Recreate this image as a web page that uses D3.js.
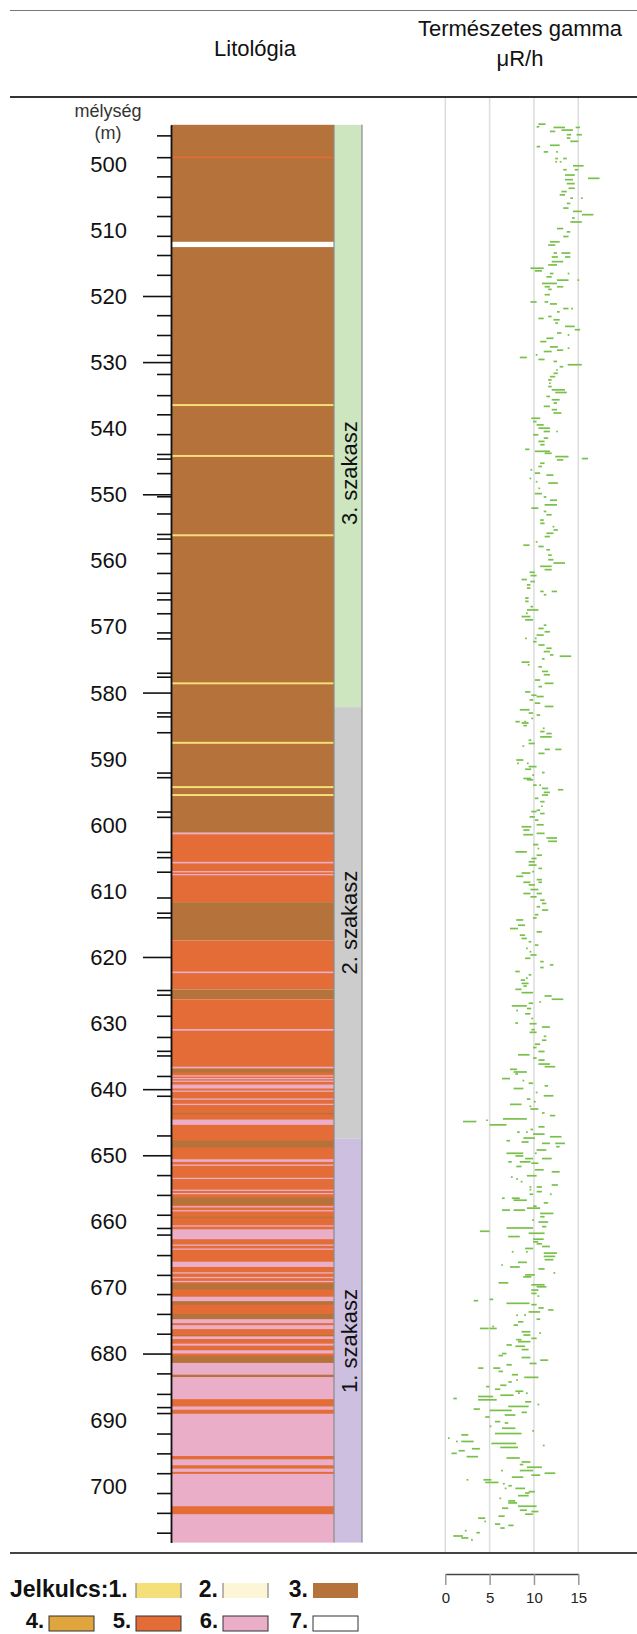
<!DOCTYPE html>
<html>
<head>
<meta charset="utf-8">
<script src="https://cdn.jsdelivr.net/npm/d3@7"></script>
<style>
body { margin: 0; background: #fff; }
text { font-family: "Liberation Sans", Arial, sans-serif; fill: #111; }
</style>
</head>
<body>
<script>
(function(){

//depth labels and irregular depth ticks (m)
var depthLabels = [500, 510, 520, 530, 540, 550, 560, 570, 580, 590, 600, 610, 620, 630, 640, 650, 660, 670, 680, 690, 700];
var majorTicks = [520, 530, 550, 580, 620, 640, 650, 680];
var minorTicks = [495.7, 499.0, 501.9, 505.0, 507.9, 510.9, 513.8, 516.8, 522.9, 525.9, 528.9, 531.8, 535.0,
    537.9, 540.9, 543.9, 544.6, 546.8, 550.3, 552.9, 556.0, 556.7, 558.9, 561.9, 564.9, 565.9, 568.0,
    570.9, 571.8, 577.0, 577.6, 583.0, 583.6, 586.0, 592.1, 592.8, 598.0, 598.8, 604.1, 604.9, 607.1,
    611.0, 613.3, 614.0, 625.0, 625.7, 628.9, 632.1, 634.2, 634.9, 638.0, 641.0, 647.0, 653.0, 656.0,
    659.0, 661.0, 662.0, 665.1, 668.1, 671.0, 674.0, 677.0, 683.0, 686.1, 688.1, 689.0, 692.1, 695.1,
    698.1, 701.1, 704.1, 707.1];

//lithology layers: [top, bottom, key] drawn in order (thin beds on top of thick ones)
var lithoLayers = [
    [494.1, 601.2, 3], [601.2, 611.7, 5], [611.7, 617.5, 3], [617.5, 624.9, 5], [624.9, 626.4, 3],
    [626.4, 681.4, 5], [681.4, 708.6, 6],
    [498.9, 499.15, 5], [511.8, 512.6, 7],
    [536.35, 536.65, 1], [544.05, 544.35, 1], [556.05, 556.35, 1], [578.45, 578.75, 1],
    [587.45, 587.75, 1], [594.15, 594.45, 1], [595.35, 595.65, 1],
    [601.2, 601.45, 6], [605.6, 605.85, 6], [607.0, 607.2, 6], [607.45, 607.65, 6],
    [622.2, 622.45, 6], [630.9, 631.15, 6], [636.6, 636.85, 6], [636.95, 637.5, 3],
    [637.9, 638.1, 6], [638.3, 638.5, 6], [638.7, 638.9, 6], [639.3, 639.9, 6], [640.2, 640.4, 6],
    [641.4, 641.6, 6], [642.2, 642.4, 6], [643.6, 643.8, 3], [644.6, 645.4, 6], [647.8, 648.8, 3],
    [650.6, 651.0, 6], [651.4, 651.6, 6], [653.4, 653.6, 6], [655.2, 655.4, 6], [655.7, 655.9, 6],
    [656.4, 657.5, 3], [657.7, 657.9, 6], [658.3, 658.5, 6], [659.3, 659.5, 3], [660.6, 660.8, 6],
    [661.2, 662.7, 6], [663.5, 663.7, 6], [664.1, 664.3, 6], [666.1, 666.9, 6], [667.7, 667.9, 6],
    [668.4, 668.6, 6], [669.0, 669.2, 6], [669.4, 670.3, 3], [671.4, 672.1, 6], [672.1, 672.6, 3],
    [674.0, 674.8, 3], [674.8, 675.4, 6], [675.7, 676.3, 6], [677.2, 677.4, 3], [677.4, 677.8, 6],
    [678.5, 678.8, 6], [679.5, 680.0, 6], [680.4, 681.4, 3],
    [683.2, 683.55, 3], [686.9, 688.0, 5], [688.5, 689.1, 5], [695.5, 696.0, 5], [696.9, 697.4, 5],
    [697.9, 698.2, 5], [703.1, 704.3, 5]
];
var lithoColor = {1: "#f4df78", 2: "#fcf5d6", 3: "#b5723b", 4: "#e0a53c", 5: "#e36c37", 6: "#ebaec8", 7: "#ffffff"};

//stratigraphic units: [top, bottom, label, label depth]
var stages = [
    [494.1, 582.2, "3. szakasz", 546.8],
    [582.2, 647.5, "2. szakasz", 614.8],
    [647.5, 708.6, "1. szakasz", 678.1]
];
var stageColor = ["#cde6c0", "#cccccc", "#cdbfe0"];

//natural gamma readings: [depth m, low, high] in uR/h
var gammaDashes = [
[494.0,10.5,11.3],[494.4,10.3,10.6],[494.5,12.2,13.5],[494.5,14.7,15.2],[494.9,13.1,14.4],[495.1,11.8,12.4],
[495.6,13.7,14.2],[495.6,14.8,15.4],[496.1,13.7,14.1],[496.6,14.1,15.0],[497.2,11.8,12.9],[497.4,10.3,10.7],
[498.2,11.1,11.6],[498.2,12.5,12.7],[499.2,12.4,12.7],[499.2,13.3,13.7],[499.7,12.4,12.6],[499.7,12.9,13.1],
[500.3,14.4,15.6],[500.9,13.3,13.7],[500.9,14.6,15.0],[501.7,13.5,14.6],[502.2,16.1,17.4],[502.4,13.5,14.4],
[503.0,13.7,14.6],[503.7,13.9,14.6],[504.2,13.1,13.7],[504.7,12.9,13.5],[505.2,14.1,14.4],[505.2,15.3,15.5],
[506.0,13.7,14.1],[506.7,13.3,13.9],[507.2,14.4,15.4],[507.7,15.4,16.7],[508.2,14.3,14.6],[508.8,14.1,15.4],
[509.8,12.6,13.3],[510.3,13.7,14.1],[511.0,13.3,13.9],[511.8,11.8,12.9],[512.3,11.6,12.4],[513.5,12.2,12.6],
[513.5,13.1,14.1],[514.1,12.0,12.7],[514.1,13.5,14.1],[514.8,12.0,13.3],[515.3,11.6,12.6],[515.8,9.6,11.1],
[516.2,10.1,10.9],[516.6,11.8,12.2],[516.6,13.8,14.0],[517.1,11.4,12.0],[517.6,12.6,13.9],[517.6,14.9,15.1],
[518.1,10.9,12.6],[518.6,11.2,11.8],[518.6,12.6,13.3],[519.0,11.6,12.0],[519.8,11.2,11.8],[520.9,9.6,10.3],
[520.9,11.2,11.6],[521.2,11.8,12.6],[521.9,13.3,13.9],[521.9,14.2,14.4],[522.4,12.6,12.9],[523.1,11.6,12.0],
[523.4,10.5,11.1],[523.6,12.2,12.9],[524.1,12.4,12.7],[524.6,13.5,14.6],[525.1,14.6,15.2],[525.6,12.6,13.1],
[525.9,13.8,14.0],[526.4,11.4,12.2],[526.9,10.7,11.4],[527.7,11.8,12.7],[527.9,13.8,14.0],[528.2,12.6,13.3],
[528.4,11.1,12.0],[528.9,10.2,10.4],[529.3,8.4,9.2],[529.6,10.5,11.2],[529.9,12.2,12.6],[530.4,13.8,15.4],
[530.7,12.9,13.3],[531.2,12.5,12.7],[531.7,12.2,12.7],[532.2,11.8,12.4],[532.7,11.6,12.0],[533.2,11.7,11.9],
[533.7,11.6,12.0],[534.2,12.0,13.5],[534.6,12.4,13.7],[535.2,11.4,11.8],[535.7,12.0,12.9],[536.2,12.2,12.6],
[536.7,11.1,11.8],[537.2,12.0,12.6],[537.7,12.2,13.1],[538.5,9.7,10.7],[539.0,9.9,10.3],[539.5,10.3,11.1],
[540.0,10.5,11.8],[540.5,11.1,11.8],[540.5,12.5,12.6],[541.0,9.9,10.5],[541.5,11.1,11.6],[542.0,10.5,11.2],
[542.5,10.7,11.2],[543.2,9.0,9.5],[543.5,10.1,11.8],[543.8,11.2,12.0],[544.3,12.4,13.9],[544.6,15.4,16.1],
[544.8,12.6,13.3],[545.3,10.7,11.2],[545.8,10.5,10.9],[546.3,9.6,9.8],[546.8,10.1,10.7],[547.1,11.4,12.2],
[547.6,9.5,9.7],[548.1,10.2,10.4],[548.3,11.6,12.7],[549.1,10.5,10.7],[549.9,10.1,10.9],[550.4,11.1,11.4],
[550.9,11.8,12.6],[551.6,11.2,12.6],[552.1,9.7,10.5],[552.6,11.1,11.4],[553.1,11.4,12.0],[553.9,10.7,11.1],
[554.4,10.7,11.2],[554.9,12.1,12.3],[555.4,12.2,12.7],[555.9,11.4,12.2],[556.4,11.2,11.8],[557.2,10.2,10.4],
[557.7,8.8,9.5],[557.9,10.5,11.1],[558.4,11.4,11.8],[559.2,11.6,12.0],[559.9,11.6,12.2],[560.4,12.2,13.5],
[560.9,10.7,12.0],[561.4,11.2,12.0],[561.8,9.5,10.1],[562.3,9.6,10.3],[562.9,8.6,9.2],[563.2,9.6,10.1],
[563.7,9.2,9.6],[564.2,9.2,9.6],[564.7,10.7,11.1],[564.7,12.0,12.6],[565.2,11.1,11.4],[565.7,9.0,9.4],
[566.2,9.0,9.4],[567.0,9.6,9.9],[567.5,9.2,10.5],[568.0,9.1,9.3],[568.5,8.6,9.6],[569.0,9.0,9.9],
[569.8,11.1,11.4],[570.3,10.5,11.1],[570.8,11.2,11.8],[571.3,10.3,11.1],[571.8,9.0,9.2],[571.8,10.1,10.3],
[572.3,9.9,10.3],[572.8,10.5,11.2],[573.3,11.4,12.0],[573.8,11.1,11.8],[574.3,11.8,12.2],[574.5,12.9,14.2],
[574.9,10.9,11.2],[575.4,8.6,9.5],[575.8,9.3,9.5],[576.1,10.5,10.9],[576.8,10.9,11.6],[577.3,11.1,11.8],
[578.1,10.1,10.7],[578.6,11.2,12.2],[579.1,10.5,10.9],[579.9,9.0,9.6],[580.4,9.7,10.3],[580.6,10.3,11.1],
[581.1,9.5,9.9],[581.6,10.1,10.7],[582.1,11.2,12.2],[582.6,8.4,9.5],[583.1,9.4,9.9],[583.4,10.3,10.7],
[583.9,9.7,9.9],[584.4,7.9,8.4],[584.4,8.9,9.1],[584.6,8.6,9.4],[585.0,8.8,9.2],[585.4,11.0,11.2],
[585.9,10.7,11.2],[586.2,11.4,12.0],[586.7,10.7,12.0],[587.2,9.4,9.7],[587.7,9.4,10.1],[588.1,8.7,8.9],
[588.6,11.2,11.8],[588.6,12.4,13.1],[589.2,10.5,11.2],[590.2,8.0,8.8],[590.7,9.2,9.4],[590.7,8.1,8.3],
[591.2,9.4,10.3],[591.6,9.0,9.7],[592.1,10.9,11.2],[592.5,9.8,10.0],[593.0,8.8,9.7],[593.2,9.2,9.9],
[594.0,9.9,10.3],[594.0,10.6,10.8],[594.5,10.9,11.6],[594.7,12.7,13.3],[595.1,11.1,11.8],[595.5,10.9,11.6],
[596.0,10.1,10.5],[596.5,10.7,11.2],[597.2,10.8,11.0],[597.8,10.3,10.7],[598.0,9.7,10.3],[598.3,10.7,11.2],
[598.8,9.5,10.1],[599.3,10.1,10.5],[600.0,10.3,11.1],[600.3,8.6,9.7],[600.8,8.8,9.5],[601.3,10.3,11.2],
[601.5,8.8,9.9],[602.0,11.4,12.6],[602.5,11.6,12.6],[603.0,9.9,10.5],[603.6,10.4,10.6],[604.1,7.9,9.2],
[604.6,10.3,10.9],[605.1,9.7,10.3],[605.6,9.4,10.1],[606.1,9.4,10.3],[606.6,10.5,10.9],[607.1,9.8,10.0],
[607.3,8.6,9.6],[607.8,8.0,8.8],[608.3,10.3,10.9],[608.7,8.8,9.6],[608.7,10.5,10.9],[609.1,9.4,10.1],
[609.8,9.6,10.5],[610.4,8.8,9.6],[610.4,10.3,10.9],[610.9,9.6,10.3],[611.4,10.7,11.2],[611.9,10.9,11.4],
[612.4,10.3,10.7],[612.9,10.9,11.6],[613.6,10.1,10.5],[614.1,9.9,10.3],[614.4,8.0,8.8],[615.2,8.2,9.0],
[615.7,7.3,8.2],[616.2,10.3,10.9],[616.7,8.4,9.0],[617.2,8.6,9.2],[617.7,9.4,9.7],[618.2,10.1,10.5],
[618.7,9.1,9.3],[619.2,9.5,9.7],[619.7,9.6,10.3],[620.2,9.0,9.6],[620.7,10.7,11.1],[621.2,11.8,12.2],
[621.6,10.7,11.1],[622.2,7.9,8.4],[622.7,9.4,9.7],[623.2,9.1,9.3],[623.5,8.5,9.0],[624.0,8.6,9.4],
[624.4,8.8,9.2],[624.9,7.9,8.6],[625.4,8.6,9.9],[625.9,11.2,12.0],[626.4,12.0,13.3],[626.8,10.6,10.8],
[627.0,9.4,9.9],[627.4,7.5,9.2],[627.8,9.2,9.7],[628.1,8.0,8.2],[628.6,9.0,9.6],[629.3,9.7,9.9],
[630.0,7.9,8.2],[630.1,9.5,10.3],[630.6,10.9,11.8],[631.0,9.7,10.1],[631.4,9.5,10.3],[632.0,11.1,11.4],
[632.6,10.9,11.4],[633.2,10.1,10.7],[633.7,9.9,10.3],[634.3,10.5,11.2],[634.8,8.2,9.5],[635.3,9.9,10.3],
[635.6,10.5,11.2],[636.2,10.5,11.8],[636.6,11.2,12.4],[637.0,7.3,8.1],[637.4,7.7,9.2],[637.7,7.9,8.2],
[638.4,6.4,7.3],[638.7,8.7,8.9],[639.1,9.4,9.9],[639.5,11.2,11.6],[639.9,7.7,8.8],[640.5,10.2,10.4],
[641.0,11.1,12.2],[641.5,9.2,9.6],[641.9,10.0,10.2],[642.3,7.3,8.6],[642.6,9.5,9.7],[643.0,9.6,10.5],
[643.6,10.9,11.2],[644.0,11.8,12.4],[644.5,6.5,9.2],[644.7,4.6,4.8],[644.9,2.0,3.5],[645.4,5.0,6.9],
[645.7,10.5,11.2],[646.1,9.6,9.9],[646.5,8.1,8.4],[646.5,9.1,9.3],[646.8,9.9,11.2],[647.2,11.8,13.1],
[647.4,8.8,10.1],[647.8,6.9,7.3],[648.0,8.6,9.4],[648.2,10.9,11.8],[648.2,12.4,13.5],[648.7,12.5,12.9],
[649.2,10.3,11.4],[649.7,6.9,8.8],[649.7,10.1,10.3],[650.1,7.9,8.8],[650.5,9.0,9.9],[650.5,10.9,12.0],
[651.0,7.1,7.5],[651.0,8.4,9.6],[651.2,9.7,10.5],[651.7,8.0,8.6],[652.2,10.1,11.1],[652.5,12.0,12.9],
[653.1,9.2,10.3],[653.3,7.4,7.6],[653.6,8.0,8.2],[654.0,8.5,8.7],[654.5,12.0,12.7],[654.8,9.5,9.7],
[654.8,10.3,10.9],[655.2,9.5,9.7],[655.5,10.3,10.9],[655.9,9.5,9.9],[655.9,11.8,12.0],[656.5,6.4,6.7],
[656.5,7.5,8.4],[656.8,7.7,9.2],[657.2,11.1,11.6],[657.7,9.9,10.3],[658.0,9.2,10.7],[658.3,6.4,7.3],
[658.3,7.7,9.0],[658.8,10.7,12.2],[659.3,10.7,11.2],[659.8,9.8,10.0],[660.1,10.5,11.6],[660.8,10.9,11.4],
[661.0,6.9,9.9],[661.5,3.9,5.0],[661.8,9.4,11.2],[662.3,7.1,8.4],[662.7,9.9,11.1],[663.1,9.9,10.5],
[663.4,10.3,10.9],[663.8,10.9,11.8],[664.1,9.0,9.9],[664.6,7.5,7.7],[664.6,9.1,9.3],[664.8,11.1,12.6],
[665.3,11.1,12.4],[665.8,11.2,12.2],[666.2,8.2,9.2],[666.6,6.3,6.5],[666.9,7.3,8.4],[667.2,10.5,11.2],
[667.8,12.2,12.4],[668.1,9.0,10.1],[668.4,8.8,9.7],[669.3,6.0,7.1],[669.6,9.7,11.2],[669.9,10.3,11.4],
[670.4,9.7,10.5],[670.9,9.7,10.3],[671.3,10.4,10.6],[671.8,5.0,5.4],[672.0,3.2,3.7],[672.4,6.9,9.5],
[672.6,9.7,10.3],[673.1,10.5,11.1],[673.4,11.6,12.2],[673.7,9.4,10.7],[674.2,8.0,8.2],[674.2,8.9,9.1],
[674.8,10.3,10.7],[675.2,8.2,8.8],[675.7,7.7,8.2],[675.9,5.3,5.5],[676.2,3.9,4.9],[676.2,5.0,5.8],
[676.7,8.6,9.6],[676.9,10.6,10.8],[677.2,8.8,9.6],[677.7,9.7,10.3],[677.9,8.0,8.6],[678.2,8.2,9.6],
[678.7,6.9,7.5],[678.9,7.9,9.0],[679.4,8.6,9.4],[680.0,6.4,6.9],[680.3,6.0,6.5],[680.6,8.6,9.6],
[681.0,10.7,11.6],[681.5,9.5,10.3],[681.7,6.9,7.5],[682.2,3.7,4.3],[682.2,5.4,6.2],[682.7,6.0,6.5],
[683.2,7.5,8.2],[683.6,8.9,10.5],[684.0,8.0,8.2],[684.3,7.1,7.5],[684.8,6.2,6.9],[685.0,4.6,5.0],
[685.4,5.6,6.2],[685.7,7.9,8.8],[686.0,8.2,8.4],[686.0,9.1,9.3],[686.3,6.2,7.7],[686.5,3.7,5.4],
[686.8,0.9,1.3],[687.0,3.7,5.8],[687.3,9.0,9.7],[687.7,10.4,10.6],[688.0,7.1,9.4],[688.4,3.2,3.9],
[688.6,5.0,7.5],[688.9,8.6,9.2],[689.3,6.7,7.9],[689.6,4.5,5.0],[690.3,5.6,6.2],[690.5,6.7,7.1],
[691.0,5.0,5.2],[691.3,6.4,7.9],[691.7,9.8,10.0],[692.1,5.6,8.6],[692.3,1.8,2.6],[692.8,0.3,0.5],
[693.3,1.2,1.4],[693.3,1.8,3.2],[693.6,5.2,8.0],[693.9,11.0,11.2],[694.2,6.2,8.2],[694.4,3.0,3.9],
[694.7,1.5,2.2],[695.1,0.7,1.3],[695.6,2.4,3.7],[695.8,6.9,8.4],[696.4,8.6,9.6],[696.8,8.4,8.8],
[697.2,9.2,10.9],[697.7,6.3,6.5],[697.7,8.4,9.9],[698.1,11.2,12.4],[698.4,9.7,10.7],[698.7,7.5,8.8],
[699.1,4.3,5.2],[699.1,2.4,2.6],[699.5,4.5,6.0],[699.7,6.5,6.7],[700.0,7.1,7.5],[700.4,6.7,6.9],
[700.4,7.9,9.0],[700.9,9.4,10.1],[701.1,9.0,9.5],[701.5,8.2,9.4],[701.9,6.1,6.3],[702.3,7.1,7.9],
[702.6,7.1,8.1],[703.1,8.2,10.3],[703.4,6.4,7.1],[703.7,8.4,9.2],[703.9,9.7,10.5],[704.3,9.0,9.9],
[704.6,6.0,6.7],[704.9,3.7,4.5],[705.4,4.4,4.6],[705.8,5.6,6.2],[706.0,7.1,7.7],[706.4,6.2,6.7],
[706.8,2.2,2.4],[707.1,3.5,3.9],[707.6,0.9,2.0],[707.9,1.8,2.6],[708.2,2.9,3.1]
];
var gammaTicks = [0, 5, 10, 15];

//legend rows
var legendRow1 = [1, 2, 3];
var legendRow2 = [4, 5, 6, 7];

var width = 637, height = 1634;

var svg = d3.select("body")
    .append("svg")
    .attr("width", width)
    .attr("height", height);

//depth -> y
var y = d3.scaleLinear()
    .domain([494.1, 708.6])
    .range([124.8, 1542.6]);

//gamma -> x
var x = d3.scaleLinear()
    .domain([0, 15])
    .range([445.3, 578.3]);

var colLeft = 171, colRight = 334, stageRight = 362;

//header lines
svg.append("line")
    .attr("x1", 10).attr("x2", width)
    .attr("y1", 10.5).attr("y2", 10.5)
    .attr("stroke", "#777").attr("stroke-width", 1);
svg.append("line")
    .attr("x1", 10).attr("x2", width)
    .attr("y1", 97).attr("y2", 97)
    .attr("stroke", "#333").attr("stroke-width", 2);
svg.append("line")
    .attr("x1", 10).attr("x2", width)
    .attr("y1", 1553).attr("y2", 1553)
    .attr("stroke", "#444").attr("stroke-width", 2);

//titles
svg.append("text")
    .attr("x", 255).attr("y", 56)
    .attr("text-anchor", "middle")
    .style("font-size", "22px")
    .text("Litológia");
svg.append("text")
    .attr("x", 520).attr("y", 36)
    .attr("text-anchor", "middle")
    .style("font-size", "22px")
    .text("Természetes gamma");
svg.append("text")
    .attr("x", 520).attr("y", 66)
    .attr("text-anchor", "middle")
    .style("font-size", "22px")
    .text("μR/h");

svg.append("text")
    .attr("x", 108).attr("y", 117)
    .attr("text-anchor", "middle")
    .style("font-size", "18px")
    .style("fill", "#333")
    .text("mélység");
svg.append("text")
    .attr("x", 108).attr("y", 139)
    .attr("text-anchor", "middle")
    .style("font-size", "18px")
    .style("fill", "#333")
    .text("(m)");

//gamma grid lines
svg.selectAll(".grid")
    .data(gammaTicks)
    .enter()
    .append("line")
    .attr("class", "grid")
    .attr("x1", function(d){ return x(d); })
    .attr("x2", function(d){ return x(d); })
    .attr("y1", 98).attr("y2", 1552)
    .attr("stroke", "#dcdcdc")
    .attr("stroke-width", 1.5);

//lithology column
svg.selectAll(".litho")
    .data(lithoLayers)
    .enter()
    .append("rect")
    .attr("class", "litho")
    .attr("x", colLeft)
    .attr("width", colRight - colLeft)
    .attr("y", function(d){ return y(d[0]); })
    .attr("height", function(d){ return Math.max(1, y(d[1]) - y(d[0])); })
    .attr("fill", function(d){ return lithoColor[d[2]]; });

//stage column
svg.selectAll(".stage")
    .data(stages)
    .enter()
    .append("rect")
    .attr("class", "stage")
    .attr("x", colRight)
    .attr("width", stageRight - colRight)
    .attr("y", function(d){ return y(d[0]); })
    .attr("height", function(d){ return y(d[1]) - y(d[0]); })
    .attr("fill", function(d, i){ return stageColor[i]; });

svg.selectAll(".stageLabel")
    .data(stages)
    .enter()
    .append("text")
    .attr("class", "stageLabel")
    .attr("transform", function(d){ return "translate(357," + y(d[3]) + ") rotate(-90)"; })
    .attr("text-anchor", "middle")
    .style("font-size", "22px")
    .text(function(d){ return d[2]; });

//column borders
[colRight, stageRight].forEach(function(cx){
    svg.append("line")
        .attr("x1", cx).attr("x2", cx)
        .attr("y1", y(494.1)).attr("y2", y(708.6))
        .attr("stroke", "#8a8a8a").attr("stroke-width", 1.2);
});

//depth axis: minor and major ticks
svg.append("g")
    .attr("transform", "translate(" + colLeft + ",0)")
    .call(d3.axisLeft(y).tickValues(minorTicks).tickSize(14).tickSizeOuter(0).tickFormat(""))
    .call(function(g){
        g.select(".domain").attr("stroke", "#111").attr("stroke-width", 1.8);
        g.selectAll(".tick line").attr("stroke", "#111").attr("stroke-width", 1.6);
    });
svg.append("g")
    .attr("transform", "translate(" + colLeft + ",0)")
    .call(d3.axisLeft(y).tickValues(majorTicks).tickSize(28).tickSizeOuter(0).tickFormat(""))
    .call(function(g){
        g.select(".domain").remove();
        g.selectAll(".tick line").attr("stroke", "#111").attr("stroke-width", 1.6);
    });

svg.selectAll(".depthLabel")
    .data(depthLabels)
    .enter()
    .append("text")
    .attr("class", "depthLabel")
    .attr("x", 127)
    .attr("y", function(d){ return y(d); })
    .attr("dy", "0.36em")
    .attr("text-anchor", "end")
    .style("font-size", "22px")
    .text(function(d){ return d; });

//gamma log dashes
svg.selectAll(".gamma")
    .data(gammaDashes)
    .enter()
    .append("line")
    .attr("class", "gamma")
    .attr("x1", function(d){ return x(d[1]); })
    .attr("x2", function(d){ return x(Math.max(d[2], d[1] + 0.2)); })
    .attr("y1", function(d){ return y(d[0]); })
    .attr("y2", function(d){ return y(d[0]); })
    .attr("stroke", "#78c04a")
    .attr("stroke-width", 1.7);

//gamma scale bar
svg.append("g")
    .attr("transform", "translate(0,1574)")
    .call(d3.axisBottom(x).tickValues(gammaTicks).tickSize(11).tickSizeOuter(0).tickPadding(7))
    .call(function(g){
        g.select(".domain").attr("stroke", "#444").attr("stroke-width", 1.5);
        g.selectAll(".tick line").attr("stroke", "#999").attr("stroke-width", 1.5);
        g.selectAll(".tick text")
            .style("font-family", "'Liberation Sans Narrow', 'Liberation Sans', Arial, sans-serif")
            .style("font-size", "15px")
            .style("fill", "#222");
    });

//legend
svg.append("text")
    .attr("x", 10).attr("y", 1597)
    .style("font-size", "23px")
    .style("font-weight", "bold")
    .text("Jelkulcs:1.");

var row1X = [136, 223, 313], row2X = [49, 136, 223, 313];
var swW = 45, swH = 15;

function drawSwatch(key, sx, sy){
    svg.append("rect")
        .attr("x", sx).attr("y", sy)
        .attr("width", swW).attr("height", swH)
        .attr("fill", lithoColor[key])
        .attr("stroke", key >= 4 ? "#333" : "none")
        .attr("stroke-width", 1);
    if (key <= 2){
        [sx, sx + swW].forEach(function(ex){
            svg.append("line")
                .attr("x1", ex).attr("x2", ex)
                .attr("y1", sy).attr("y2", sy + swH)
                .attr("stroke", "#888").attr("stroke-width", 1.2);
        });
    }
}

legendRow1.forEach(function(k, i){
    if (i > 0){
        svg.append("text")
            .attr("x", row1X[i] - 5).attr("y", 1597)
            .attr("text-anchor", "end")
            .style("font-size", "23px")
            .style("font-weight", "bold")
            .text(k + ".");
    }
    drawSwatch(k, row1X[i], 1583);
});
legendRow2.forEach(function(k, i){
    svg.append("text")
        .attr("x", row2X[i] - 5).attr("y", 1628)
        .attr("text-anchor", "end")
        .style("font-size", "22px")
        .style("font-weight", "bold")
        .text(k + ".");
    drawSwatch(k, row2X[i], 1616);
});

})();
</script>
</body>
</html>
